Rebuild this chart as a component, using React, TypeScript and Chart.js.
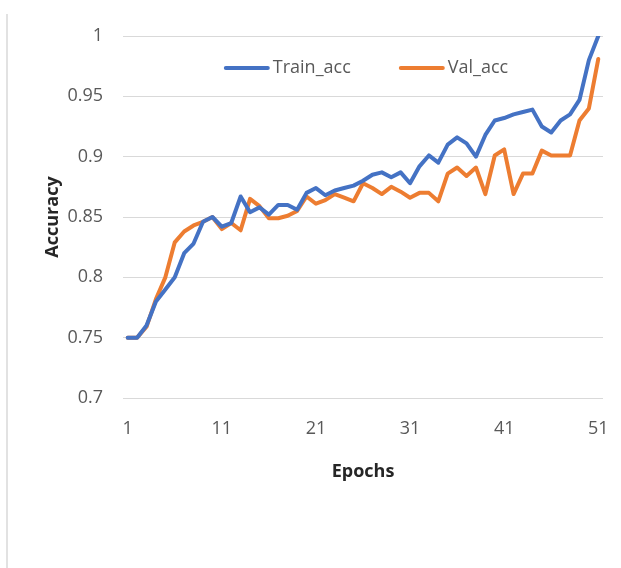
import React, { useEffect, useRef } from "react";
import { Chart, registerables } from "chart.js";

Chart.register(...registerables);

// Epoch numbers along the x axis
const epochs = [
  1, 2, 3, 4, 5, 6, 7, 8, 9, 10,
  11, 12, 13, 14, 15, 16, 17, 18, 19, 20,
  21, 22, 23, 24, 25, 26, 27, 28, 29, 30,
  31, 32, 33, 34, 35, 36, 37, 38, 39, 40,
  41, 42, 43, 44, 45, 46, 47, 48, 49, 50,
  51,
];

// Only these epochs get a visible tick label
const shownEpochs = [1, 11, 21, 31, 41, 51];

const trainAcc = [
  0.75, 0.75, 0.76, 0.78, 0.79, 0.8, 0.82, 0.828, 0.846, 0.85,
  0.842, 0.845, 0.867, 0.854, 0.858, 0.852, 0.86, 0.86, 0.856, 0.87,
  0.874, 0.868, 0.872, 0.874, 0.876, 0.88, 0.885, 0.887, 0.883, 0.887,
  0.878, 0.892, 0.901, 0.895, 0.91, 0.916, 0.911, 0.9, 0.918, 0.93,
  0.932, 0.935, 0.937, 0.939, 0.925, 0.92, 0.93, 0.935, 0.947, 0.98,
  1.0,
];

const valAcc = [
  0.75, 0.75, 0.759, 0.782, 0.8, 0.829, 0.838, 0.843, 0.846, 0.85,
  0.84, 0.845, 0.839, 0.865, 0.859, 0.849, 0.849, 0.851, 0.855, 0.867,
  0.861, 0.864, 0.869, 0.866, 0.863, 0.878, 0.874, 0.869, 0.875, 0.871,
  0.866, 0.87, 0.87, 0.863, 0.886, 0.891, 0.884, 0.891, 0.869, 0.901,
  0.906, 0.869, 0.886, 0.886, 0.905, 0.901, 0.901, 0.901, 0.93, 0.94,
  0.981,
];

const FONT = '"Open Sans", "Noto Sans", sans-serif';
const TICK_COLOR = "#595959";
const TITLE_COLOR = "#262626";

// Draws the line-style legend inside the top of the plot area
const lineLegend = {
  id: "lineLegend",
  afterDraw(chart: any) {
    const { ctx, chartArea } = chart;
    ctx.save();
    ctx.font = `18px ${FONT}`;
    const lineLen = 46;
    const gap = 3;
    const itemGap = 48;
    const items = chart.data.datasets.map((ds: any) => ({
      label: ds.label as string,
      color: ds.borderColor as string,
      w: lineLen + gap + ctx.measureText(ds.label).width,
    }));
    const total =
      items.reduce((s: number, it: any) => s + it.w, 0) +
      itemGap * (items.length - 1);
    let x = (chartArea.left + chartArea.right) / 2 - total / 2 + 3;
    const y = chartArea.top + 32;
    for (const it of items) {
      ctx.strokeStyle = it.color;
      ctx.lineWidth = 4;
      ctx.lineCap = "round";
      ctx.beginPath();
      ctx.moveTo(x + 2, y);
      ctx.lineTo(x + lineLen - 2, y);
      ctx.stroke();
      ctx.fillStyle = TICK_COLOR;
      ctx.textAlign = "left";
      ctx.textBaseline = "middle";
      ctx.fillText(it.label, x + lineLen + gap, y);
      x += it.w + itemGap;
    }
    ctx.restore();
  },
};

export default function App() {
  const canvasRef = useRef<HTMLCanvasElement | null>(null);

  useEffect(() => {
    if (!canvasRef.current) return;
    const chart = new Chart(canvasRef.current, {
      type: "line",
      data: {
        labels: epochs.map(String),
        datasets: [
          {
            label: "Train_acc",
            data: trainAcc,
            borderColor: "#4472C4",
            backgroundColor: "#4472C4",
            borderWidth: 4,
            pointRadius: 0,
            tension: 0,
            borderJoinStyle: "round",
            borderCapStyle: "round",
          },
          {
            label: "Val_acc",
            data: valAcc,
            borderColor: "#ED7D31",
            backgroundColor: "#ED7D31",
            borderWidth: 4,
            pointRadius: 0,
            tension: 0,
            borderJoinStyle: "round",
            borderCapStyle: "round",
          },
        ],
      },
      options: {
        animation: false,
        responsive: true,
        maintainAspectRatio: false,
        layout: { padding: { left: 0, right: 18, top: 36, bottom: 70 } },
        plugins: {
          legend: { display: false },
          tooltip: { enabled: false },
        },
        scales: {
          x: {
            type: "category",
            offset: true,
            grid: { display: false, drawTicks: false },
            border: { display: false },
            ticks: {
              autoSkip: false,
              maxRotation: 0,
              padding: 20,
              color: TICK_COLOR,
              font: { family: FONT, size: 18 },
              callback: (_v: any, i: number) =>
                shownEpochs.includes(epochs[i]) ? String(epochs[i]) : "",
            },
            title: {
              display: true,
              text: "Epochs",
              color: TITLE_COLOR,
              font: { family: FONT, size: 18, weight: "bold" },
              padding: { top: 0, bottom: 15 },
            },
            afterFit: (scale: any) => {
              scale.height = 100;
              scale.paddingLeft = 0;
              scale.paddingRight = 0;
            },
          },
          y: {
            min: 0.7,
            max: 1,
            grid: { color: "#d9d9d9", lineWidth: 1, drawTicks: false },
            border: { display: false },
            ticks: {
              stepSize: 0.05,
              padding: 20,
              color: TICK_COLOR,
              font: { family: FONT, size: 18 },
              callback: (v: any) => String(Number(Number(v).toFixed(2))),
            },
            title: {
              display: true,
              text: "Accuracy",
              color: TITLE_COLOR,
              font: { family: FONT, size: 18, weight: "bold" },
              padding: { top: 42, bottom: 0 },
            },
            afterFit: (scale: any) => {
              scale.width = 123;
            },
          },
        },
      },
      plugins: [lineLegend],
    });
    return () => chart.destroy();
  }, []);

  return (
    <div
      style={{
        position: "absolute",
        left: 0,
        top: 0,
        width: 621,
        height: 568,
        background: "#ffffff",
      }}
    >
      <div
        style={{
          position: "absolute",
          left: 6,
          top: 14,
          bottom: 0,
          width: 2,
          background: "#e2e2e2",
        }}
      />
      <canvas ref={canvasRef} />
    </div>
  );
}
